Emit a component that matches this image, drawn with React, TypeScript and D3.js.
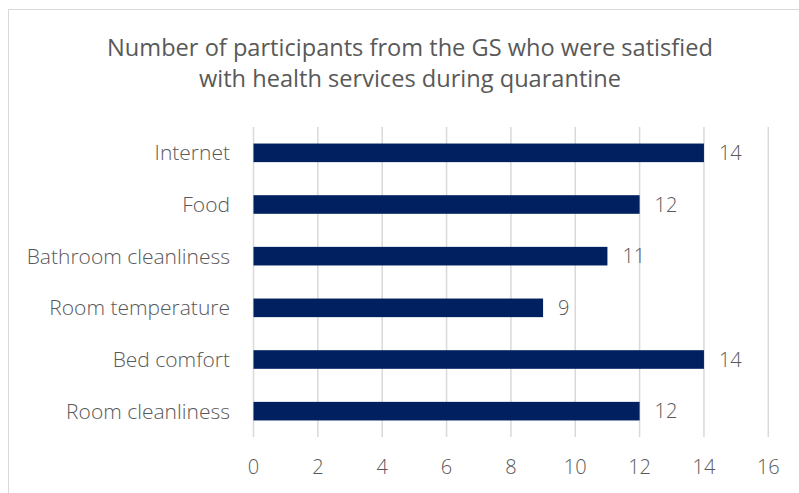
import React from "react";
import * as d3 from "d3";

const categories = ["Internet", "Food", "Bathroom cleanliness", "Room temperature", "Bed comfort", "Room cleanliness"];
const values = [14, 12, 11, 9, 14, 12];
const xTicks = [0, 2, 4, 6, 8, 10, 12, 14, 16];
const titleLines = ["Number of participants from the GS who were satisfied", "with health services during quarantine"];

export default function App() {
  const W = 799, H = 493;
  const left = 253.5, right = 768.3, top = 127, bottom = 437;
  const x = d3.scaleLinear().domain([0, 16]).range([left, right]);
  const y = d3.scaleBand<string>().domain(categories).range([top, bottom]).paddingInner(0.64).paddingOuter(0.32);
  const font = "'Open Sans', 'Noto Sans', sans-serif";
  const grey = "#595959";
  return (
    <svg width={W} height={H} style={{ position: "absolute", left: 0, top: 0, background: "#fff" }}>
      <rect x={8.5} y={9.5} width={W + 20} height={H + 20} fill="#fff" stroke="#d9d9d9" strokeWidth={1} />
      {titleLines.map((t, i) => (
        <text key={i} x={410} y={56 + i * 31} textAnchor="middle" fontFamily={font} fontSize={23.6} fill={grey}>{t}</text>
      ))}
      {xTicks.map((t) => (
        <g key={t}>
          <line x1={x(t)} x2={x(t)} y1={top} y2={bottom} stroke="#d9d9d9" strokeWidth={1.5} />
          <text x={x(t)} y={474} textAnchor="middle" fontFamily={font} fontSize={20} fontWeight={300} fill={grey}>{t}</text>
        </g>
      ))}
      {categories.map((c, i) => {
        const yy = y(c)!;
        const bw = y.bandwidth();
        return (
          <g key={c}>
            <rect x={x(0)} y={yy} width={x(values[i]) - x(0)} height={bw} fill="#002060" />
            <text x={230} y={yy + bw / 2} dy="0.35em" textAnchor="end" fontFamily={font} fontSize={21} fontWeight={300} fill={grey}>{c}</text>
            <text x={x(values[i]) + 15} y={yy + bw / 2} dy="0.35em" textAnchor="start" fontFamily={font} fontSize={20} fontWeight={300} fill={grey}>{values[i]}</text>
          </g>
        );
      })}
    </svg>
  );
}
